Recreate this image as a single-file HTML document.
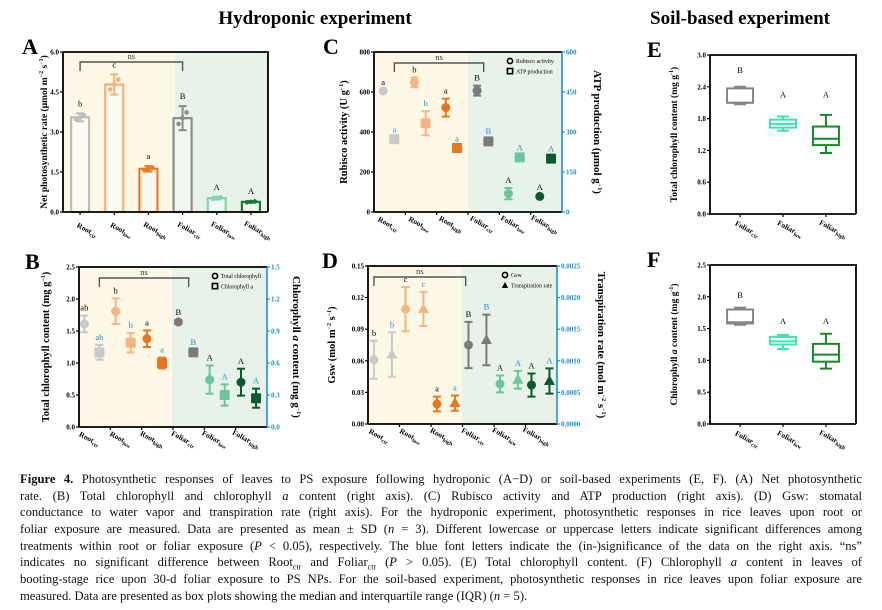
<!DOCTYPE html>
<html><head><meta charset="utf-8">
<style>
body{margin:0;background:#fff;}
#wrap{position:relative;width:882px;height:610px;overflow:hidden;background:#fff;}
svg text{font-family:"Liberation Serif",serif;}
.cap{position:absolute;left:20px;width:842px;font-family:"Liberation Serif",serif;font-size:12.6px;line-height:16.7px;text-align:justify;text-align-last:justify;white-space:nowrap;color:#111;}
.cap.last{text-align-last:left;}
</style></head>
<body>
<div id="wrap">
<svg id="fig" width="882" height="470" style="position:absolute;left:0;top:0">
<text x="315" y="24" text-anchor="middle" font-size="19" font-weight="bold">Hydroponic experiment</text>
<text x="740" y="24" text-anchor="middle" font-size="19" font-weight="bold">Soil-based experiment</text>
</svg>
<div class="cap" style="top:471px"><b>Figure 4.</b> Photosynthetic responses of leaves to PS exposure following hydroponic (A−D) or soil-based experiments (E, F). (A) Net photosynthetic</div>
<div class="cap" style="top:488px">rate. (B) Total chlorophyll and chlorophyll <i>a</i> content (right axis). (C) Rubisco activity and ATP production (right axis). (D) Gsw: stomatal</div>
<div class="cap" style="top:504px">conductance to water vapor and transpiration rate (right axis). For the hydroponic experiment, photosynthetic responses in rice leaves upon root or</div>
<div class="cap" style="top:521px">foliar exposure are measured. Data are presented as mean ± SD (<i>n</i> = 3). Different lowercase or uppercase letters indicate significant differences among</div>
<div class="cap" style="top:538px">treatments within root or foliar exposure (<i>P</i> &lt; 0.05), respectively. The blue font letters indicate the (in-)significance of the data on the right axis. “ns”</div>
<div class="cap" style="top:554px">indicates no significant difference between Root<sub style="font-size:8px">ctr</sub> and Foliar<sub style="font-size:8px">ctr</sub> (<i>P</i> &gt; 0.05). (E) Total chlorophyll content. (F) Chlorophyll <i>a</i> content in leaves of</div>
<div class="cap" style="top:571px">booting-stage rice upon 30-d foliar exposure to PS NPs. For the soil-based experiment, photosynthetic responses in rice leaves upon foliar exposure are</div>
<div class="cap last" style="top:588px">measured. Data are presented as box plots showing the median and interquartile range (IQR) (<i>n</i> = 5).</div>
</div>
<script>
// ---- data ----
const groups = ["ctr","low","high","ctr","low","high"];
const groupBase = ["Root","Root","Root","Foliar","Foliar","Foliar"];
const aValues = [3.55,4.78,1.62,3.52,0.52,0.38];
const aErrors = [0.15,0.38,0.10,0.45,0.05,0.03];
const aLetters = ["b","c","a","B","A","A"];
const aTicks = [0,1.5,3.0,4.5,6.0];
const bTotal = [1.61,1.81,1.38,1.64,0.74,0.70];
const bTotalErr = [0.13,0.20,0.13,0.03,0.22,0.21];
const bChlA = [0.70,0.79,0.60,0.70,0.30,0.27];
const bChlAErr = [0.07,0.09,0.05,0.02,0.10,0.09];
const bLetters = ["ab","b","a","B","A","A"];
const bLettersR = ["ab","b","a","B","A","A"];
const bTicksL = [0,0.5,1.0,1.5,2.0,2.5];
const bTicksR = [0,0.3,0.6,0.9,1.2,1.5];
const cRubisco = [605,648,522,607,92,78];
const cRubiscoErr = [6,25,45,25,28,6];
const cATP = [273,333,240,265,205,200];
const cATPErr = [6,45,6,8,6,8];
const cLetters = ["a","b","a","B","A","A"];
const cLettersR = ["a","b","a","B","A","A"];
const cTicksL = [0,200,400,600,800];
const cTicksR = [0,150,300,450,600];
const dGsw = [0.061,0.109,0.019,0.075,0.038,0.037];
const dGswErr = [0.018,0.021,0.007,0.022,0.008,0.011];
const dTrans = [0.00110,0.00182,0.00033,0.00133,0.00070,0.00068];
const dTransErr = [0.00035,0.00027,0.00012,0.00040,0.00014,0.00020];
const dLetters = ["b","c","a","B","A","A"];
const dLettersR = ["b","c","a","B","A","A"];
const dTicksL = [0,0.03,0.06,0.09,0.12,0.15];
const dTicksR = [0,0.0005,0.0010,0.0015,0.0020,0.0025];
const boxCats = ["ctr","low","high"];
const eMin=[2.07,1.57,1.15], eQ1=[2.10,1.63,1.30], eMed=[2.10,1.70,1.42], eQ3=[2.37,1.78,1.65], eMax=[2.40,1.84,1.87];
const eLetters=["B","A","A"];
const eLetterVals=[2.66,2.2,2.2];
const eTicks=[0,0.6,1.2,1.8,2.4,3.0];
const fMin=[1.56,1.18,0.87], fQ1=[1.58,1.25,0.98], fMed=[1.60,1.30,1.09], fQ3=[1.80,1.37,1.26], fMax=[1.83,1.40,1.42];
const fLetters=["B","A","A"];
const fLetterVals=[1.98,1.57,1.57];
const fTicks=[0,0.5,1.0,1.5,2.0,2.5];

const colors=["#c9c9c9","#f4b585","#e8761f","#7b7b7b","#6cc59b","#0b5a2d"];
const barColors=["#bcbcbc","#f0b27c","#e97b22","#8c8c8c","#80d6a8","#1b7a3b"];
const boxColors=["#858585","#3fe3b3","#168a22"];
const BLUE="#1a8fd0";
const svg=document.getElementById('fig');
const NS="http://www.w3.org/2000/svg";
function el(tag,attrs,parent){const e=document.createElementNS(NS,tag);for(const k in attrs)e.setAttribute(k,attrs[k]);(parent||svg).appendChild(e);return e;}
function txt(x,y,s,attrs,parent){const t=el('text',Object.assign({x:x,y:y},attrs),parent);t.textContent=s;return t;}
function lin(d0,d1,r0,r1){return v=>r0+(v-d0)/(d1-d0)*(r1-r0);}

function panelFrame(p){
  const g=el('g',{});
  
  
  if(p.split){
    const bg1=el('rect',{x:p.x0,y:p.y0,width:p.split-p.x0,height:p.y1-p.y0,fill:"#fdf7e6"},g);
    
    
    const bg2=el('rect',{x:p.split,y:p.y0,width:p.x1-p.split,height:p.y1-p.y0,fill:"#e9f2e8"},g);
    
    
  }
  const lt=txt(p.x0-p.letterOff,p.y0+2,p.letter,{"font-size":22,"font-weight":"bold"},g);
  
  
  return g;
}
function leftAxis(g,p,ticks,y,label){
  const ax=el('g',{},g);
  
  
  ticks.forEach(t=>{
    el('line',{x1:p.x0-3,x2:p.x0,y1:y(t),y2:y(t),stroke:"#000","stroke-width":1.2},ax);
    const tl=txt(p.x0-4,y(t)+2.5,p.fmt(t),{"font-size":7,"font-weight":"bold","text-anchor":"end"},ax);
    
    
  });
  const cy=(p.y0+p.y1)/2, lx=p.x0-p.labelOff;
  const yl=el('text',{x:lx,y:cy,"font-size":p.labelSize||10.5,"font-weight":"bold","text-anchor":"middle",transform:`rotate(-90 ${lx} ${cy})`},ax);
  yl.innerHTML=label;
  
  
}
function rightAxis(g,p,ticks,y,label,fmt){
  const ax=el('g',{},g);
  
  
  el('line',{x1:p.x1,x2:p.x1,y1:p.y0,y2:p.y1,stroke:BLUE,"stroke-width":1.6},ax);
  ticks.forEach(t=>{
    el('line',{x1:p.x1,x2:p.x1+3,y1:y(t),y2:y(t),stroke:BLUE,"stroke-width":1.2},ax);
    const tl=txt(p.x1+4,y(t)+2.5,fmt(t),{"font-size":7,"font-weight":"bold",fill:BLUE},ax);
    
    
  });
  const cy=(p.y0+p.y1)/2, lx=p.x1+p.rLabelOff;
  const yl=el('text',{x:lx,y:cy,"font-size":11,"font-weight":"bold","text-anchor":"middle",transform:`rotate(90 ${lx} ${cy})`},ax);
  yl.innerHTML=label;
  
  
}
function catLabel(g,x,y,i,cats,bases){
  const t=el('text',{x:x,y:y,"font-size":7.5,"font-weight":"bold","text-anchor":"middle",transform:`rotate(28 ${x} ${y})`},g);
  t.innerHTML=`${bases[i]}<tspan font-size="5.5" dy="2">${cats[i]}</tspan>`;
  
  
}
function border(g,p,right){
  const b=el('path',{d:`M${p.x0},${p.y0}H${p.x1}${right?'':'V'+p.y1}M${p.x0},${p.y0}V${p.y1}H${p.x1}`,fill:"none",stroke:"#000","stroke-width":1.8},g);
  
  
}
function nsBracket(g,xa,xb,yb){
  const br=el('path',{d:`M${xa},${yb+9}V${yb}H${xb}V${yb+9}`,fill:"none",stroke:"#555","stroke-width":1.4},g);
  
  
  const t=txt((xa+xb)/2,yb-3,"ns",{"font-size":8.5,"text-anchor":"middle",fill:"#333"},g);
  
  
}
function errBar(g,x,yc,ylo,yhi,col,w){
  const e=el('path',{d:`M${x},${ylo}V${yhi}M${x-w},${ylo}H${x+w}M${x-w},${yhi}H${x+w}`,stroke:col,"stroke-width":2,fill:"none"},g);
  
  
}

// ---- Panel A (bars) ----
(function(){
  const p={name:'panel-a',letter:'A',x0:63,x1:268,y0:52,y1:212,split:175,labelOff:16,letterOff:41,labelSize:9.5,fmt:t=>t.toFixed(1)};
  const g=panelFrame(p);
  const y=lin(0,6,p.y1,p.y0);
  const gw=(p.x1-p.x0)/6;
  const cx=i=>p.x0+gw*(i+0.5);
  aValues.forEach((v,i)=>{
    const b=el('rect',{x:cx(i)-9,y:y(v),width:18,height:p.y1-y(v),fill:"#fff","fill-opacity":0.35,stroke:barColors[i],"stroke-width":2.2},g);
    
    
    errBar(g,cx(i),y(v),y(v-aErrors[i]),y(v+aErrors[i]),barColors[i],4);
    [-0.6,0,0.6].forEach((d,k)=>{const dot=el('circle',{cx:cx(i)+(k-1)*4,cy:y(v+d*aErrors[i]*0.8),r:2.3,fill:barColors[i]},g);
      
      });
    const l=txt(cx(i),y(v+aErrors[i])-7,aLetters[i],{"font-size":8.5,"text-anchor":"middle"},g);
    
    
    el('line',{x1:cx(i),x2:cx(i),y1:p.y1,y2:p.y1+3,stroke:"#000","stroke-width":1.2},g);
    catLabel(g,cx(i)+6,p.y1+20,i,groups,groupBase);
  });
  border(g,p,false);
  leftAxis(g,p,aTicks,y,'Net photosynthetic rate (μmol m<tspan font-size="6" dy="-4">−2</tspan><tspan dy="4"> s</tspan><tspan font-size="6" dy="-4">−1</tspan><tspan dy="4">)</tspan>');
  nsBracket(g,cx(0),cx(3),62);
})();

// ---- dual scatter panels ----
function dual(p,L,Le,R,Re,letL,letR,tL,tR,legend,markR){
  const g=panelFrame(p);
  const y=lin(tL[0],tL[tL.length-1],p.y1,p.y0);
  const yr=lin(tR[0],tR[tR.length-1],p.y1,p.y0);
  const gw=(p.x1-p.x0)/6;
  for(let i=0;i<6;i++){
    const xa=p.x0+gw*(i+p.offL), xb=p.x0+gw*(i+p.offR);
    errBar(g,xa,0,y(L[i]-Le[i]),y(L[i]+Le[i]),colors[i],4);
    const c=el('circle',{cx:xa,cy:y(L[i]),r:4.5,fill:colors[i]},g);
    
    
    errBar(g,xb,0,yr(R[i]-Re[i]),yr(R[i]+Re[i]),colors[i],4);
    let m;
    if(markR==='tri') m=el('path',{d:`M${xb},${yr(R[i])-6}L${xb+5.5},${yr(R[i])+4}L${xb-5.5},${yr(R[i])+4}Z`,fill:colors[i]},g);
    else m=el('rect',{x:xb-5,y:yr(R[i])-5,width:10,height:10,rx:1,fill:colors[i]},g);
    
    
    const l1=txt(xa,y(L[i]+Le[i])-5,letL[i],{"font-size":8.5,"text-anchor":"middle"},g);
    
    
    const l2=txt(xb,yr(R[i]+Re[i])-5,letR[i],{"font-size":8.5,"text-anchor":"middle",fill:BLUE},g);
    
    
    if(i<5) el('line',{x1:p.x0+gw*(i+1),x2:p.x0+gw*(i+1),y1:p.y1,y2:p.y1+3,stroke:"#000","stroke-width":1.2},g);
    catLabel(g,p.x0+gw*(i+p.offL)+4,p.y1+14,i,groups,groupBase);
  }
  const bp=el('path',{d:`M${p.x0},${p.y1}V${p.y0}H${p.x1}M${p.x0},${p.y1}H${p.x1}`,fill:"none",stroke:"#000","stroke-width":1.8},g);
  
  
  leftAxis(g,p,tL,y,p.lLabel);
  rightAxis(g,p,tR,yr,p.rLabel,p.fmtR);
  nsBracket(g,p.x0+gw*p.bA,p.x0+gw*p.bB,p.y0+11);
  const lg=el('g',{},g);
  
  
  const lx=p.x1-52;
  el('circle',{cx:lx,cy:p.y0+9,r:2.6,fill:"none",stroke:"#000","stroke-width":1.6},lg);
  txt(lx+6,p.y0+11,legend[0],{"font-size":5.8},lg);
  if(markR==='tri') el('path',{d:`M${lx},${p.y0+16}L${lx+3.2},${p.y0+22}L${lx-3.2},${p.y0+22}Z`,fill:"#000"},lg);
  else el('rect',{x:lx-2.6,y:p.y0+16.5,width:5.2,height:5.2,fill:"none",stroke:"#000","stroke-width":1.6},lg);
  txt(lx+6,p.y0+21.5,legend[1],{"font-size":5.8},lg);
}
dual({name:'panel-c',letter:'C',x0:374,x1:562,y0:52,y1:212,split:468,offL:0.29,offR:0.65,bA:0.65,bB:3.5,labelOff:27,letterOff:51,rLabelOff:32,fmt:t=>String(t),fmtR:t=>String(t),
  lLabel:'Rubisco activity (U g<tspan font-size="6" dy="-4">−1</tspan><tspan dy="4">)</tspan>',
  rLabel:'ATP production (μmol g<tspan font-size="6" dy="-4">−1</tspan><tspan dy="4">)</tspan>'},
  cRubisco,cRubiscoErr,cATP,cATPErr,cLetters,cLettersR,cTicksL,cTicksR,["Rubisco activity","ATP production"],'sq');
dual({name:'panel-b',letter:'B',x0:79,x1:267,y0:267,y1:427,split:172,offL:0.17,offR:0.65,bA:0.65,bB:3.5,labelOff:30,letterOff:54,rLabelOff:26,fmt:t=>t.toFixed(1),fmtR:t=>t.toFixed(1),
  lLabel:'Total chlorophyll content (mg g<tspan font-size="6" dy="-4">−1</tspan><tspan dy="4">)</tspan>',
  rLabel:'Chlorophyll <tspan font-style="italic">a</tspan> content (mg g<tspan font-size="6" dy="-4">−1</tspan><tspan dy="4">)</tspan>'},
  bTotal,bTotalErr,bChlA,bChlAErr,bLetters,bLettersR,bTicksL,bTicksR,["Total chlorophyll","Chlorophyll a"],'sq');
dual({name:'panel-d',letter:'D',x0:368,x1:557,y0:266,y1:424,split:462,offL:0.19,offR:0.76,bA:0.19,bB:3.1,labelOff:33,letterOff:46,rLabelOff:41,fmt:t=>t.toFixed(2),fmtR:t=>t.toFixed(4),
  lLabel:'Gsw (mol m<tspan font-size="6" dy="-4">−2</tspan><tspan dy="4"> s</tspan><tspan font-size="6" dy="-4">−1</tspan><tspan dy="4">)</tspan>',
  rLabel:'Transpiration rate (mol m<tspan font-size="6" dy="-4">−2</tspan><tspan dy="4"> s</tspan><tspan font-size="6" dy="-4">−1</tspan><tspan dy="4">)</tspan>'},
  dGsw,dGswErr,dTrans,dTransErr,dLetters,dLettersR,dTicksL,dTicksR,["Gsw","Transpiration rate"],'tri');

// ---- box panels ----
function boxPanel(p,mn,q1,md,q3,mx,lets,letVals,ticks){
  const g=panelFrame(p);
  const y=lin(ticks[0],ticks[ticks.length-1],p.y1,p.y0);
  const gw=(p.x1-p.x0)/3.4;
  const cx=i=>p.x0+gw*(i+0.7);
  boxCats.forEach((c,i)=>{
    const x=cx(i),w=13,col=boxColors[i];
    const bx=el('g',{},g);
    
    
    el('path',{d:`M${x},${y(mn[i])}V${y(q1[i])}M${x},${y(q3[i])}V${y(mx[i])}M${x-6},${y(mn[i])}H${x+6}M${x-6},${y(mx[i])}H${x+6}`,stroke:col,"stroke-width":2,fill:"none"},bx);
    el('rect',{x:x-w,y:y(q3[i]),width:2*w,height:y(q1[i])-y(q3[i]),fill:"none",stroke:col,"stroke-width":2},bx);
    el('line',{x1:x-w,x2:x+w,y1:y(md[i]),y2:y(md[i]),stroke:col,"stroke-width":2},bx);
    const l=txt(x,y(letVals[i]),lets[i],{"font-size":8.5,"text-anchor":"middle"},g);
    
    
    el('line',{x1:x,x2:x,y1:p.y1,y2:p.y1+3,stroke:"#000","stroke-width":1.2},g);
    catLabel(g,x+6,p.y1+17,i,boxCats,["Foliar","Foliar","Foliar"]);
  });
  border(g,p,false);
  leftAxis(g,p,ticks,y,p.lLabel);
}
boxPanel({name:'panel-e',letter:'E',x0:710,x1:856,y0:55,y1:214,labelOff:33,letterOff:63,labelSize:9.5,fmt:t=>t.toFixed(1),
  lLabel:'Total chlorophyll  content (mg g<tspan font-size="6" dy="-4">-1</tspan><tspan dy="4">)</tspan>'},eMin,eQ1,eMed,eQ3,eMax,eLetters,eLetterVals,eTicks);
boxPanel({name:'panel-f',letter:'F',x0:710,x1:856,y0:265,y1:424,labelOff:33,letterOff:63,labelSize:9.5,fmt:t=>t.toFixed(1),
  lLabel:'Chlorophyll <tspan font-style="italic">a</tspan> content (mg g<tspan font-size="6" dy="-4">-1</tspan><tspan dy="4">)</tspan>'},fMin,fQ1,fMed,fQ3,fMax,fLetters,fLetterVals,fTicks);
</script>
</body></html>
